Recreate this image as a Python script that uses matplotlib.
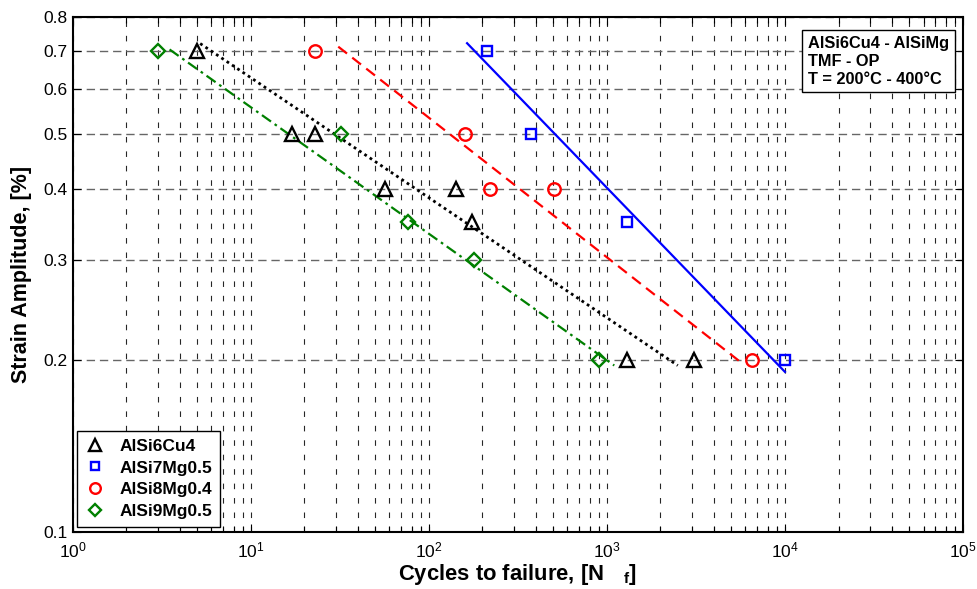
import numpy as np
import matplotlib
matplotlib.use('Agg')
import matplotlib.pyplot as plt
from matplotlib.ticker import LogLocator, NullLocator, FixedLocator, FixedFormatter

plt.rcParams['font.family'] = ['Liberation Sans', 'DejaVu Sans']
plt.rcParams['mathtext.fontset'] = 'custom'
plt.rcParams['mathtext.rm'] = 'Liberation Sans'
plt.rcParams['mathtext.bf'] = 'Liberation Sans:bold'
plt.rcParams['mathtext.it'] = 'Liberation Sans:bold'

# ---- data ----
cu4_n = [5, 17, 23, 57, 143, 175, 1300, 3100]
cu4_e = [0.7, 0.5, 0.5, 0.4, 0.4, 0.35, 0.2, 0.2]

mg7_n = [212, 373, 1300, 10000]
mg7_e = [0.7, 0.5, 0.35, 0.2]

mg8_n = [23, 159, 220, 507, 6500]
mg8_e = [0.7, 0.5, 0.4, 0.4, 0.2]

mg9_n = [3, 32, 76, 179, 900]
mg9_e = [0.7, 0.5, 0.35, 0.3, 0.2]

# fitted lines (end points)
cu4_fit_n = [5.2, 2500]
cu4_fit_e = [0.72, 0.196]
mg7_fit_n = [164, 10000]
mg7_fit_e = [0.721, 0.191]
mg8_fit_n = [31, 5600]
mg8_fit_e = [0.711, 0.199]
mg9_fit_n = [3.5, 1100]
mg9_fit_e = [0.703, 0.196]

y_ticks = [0.1, 0.2, 0.3, 0.4, 0.5, 0.6, 0.7, 0.8]
y_tick_labels = ['0.1', '0.2', '0.3', '0.4', '0.5', '0.6', '0.7', '0.8']

green = '#008000'

fig = plt.figure(figsize=(9.77, 5.89), dpi=100)
ax = fig.add_axes([0.0744, 0.0968, 0.9113, 0.8735])

# fit lines
ax.plot(cu4_fit_n, cu4_fit_e, color='k', ls=(0, (1, 1.3)), lw=2.0)
ax.plot(mg7_fit_n, mg7_fit_e, color='b', ls='-', lw=1.6)
ax.plot(mg8_fit_n, mg8_fit_e, color='r', ls=(0, (5, 3)), lw=1.6)
ax.plot(mg9_fit_n, mg9_fit_e, color=green, ls=(0, (5, 2, 1.2, 2)), lw=1.6)

# data points
ax.plot(cu4_n, cu4_e, '^', color='k', mfc='none', mew=1.7, ms=10, ls='none', label='AlSi6Cu4')
ax.plot(mg7_n, mg7_e, 's', color='b', mfc='none', mew=1.7, ms=7.5, ls='none', label='AlSi7Mg0.5')
ax.plot(mg8_n, mg8_e, 'o', color='r', mfc='none', mew=1.7, ms=9, ls='none', label='AlSi8Mg0.4')
ax.plot(mg9_n, mg9_e, 'D', color=green, mfc='none', mew=1.7, ms=7.5, ls='none', label='AlSi9Mg0.5')

ax.set_xscale('log')
ax.set_yscale('log')
ax.set_xlim(1, 1e5)
ax.set_ylim(0.1, 0.8)

ax.xaxis.set_major_locator(LogLocator(base=10, numticks=10))
ax.xaxis.set_minor_locator(LogLocator(base=10, subs=np.arange(2, 10), numticks=20))
ax.yaxis.set_major_locator(FixedLocator(y_ticks))
ax.yaxis.set_major_formatter(FixedFormatter(y_tick_labels))
ax.yaxis.set_minor_locator(NullLocator())

ax.tick_params(which='both', direction='in', top=True, right=True, labelsize=12.5)
ax.tick_params(which='major', length=6, width=0.8)
ax.tick_params(which='minor', length=4, width=0.8)
ax.tick_params(axis='x', pad=6)

# grid
ax.grid(axis='x', which='both', color='0.15', lw=0.8, ls=(0, (5, 8)))
ax.grid(axis='y', which='major', color='0.4', lw=1.0, ls=(0, (6, 3.5)))
ax.set_axisbelow(True)

for s in ax.spines.values():
    s.set_linewidth(1.5)

ax.set_xlabel('Cycles to failure, [N$\\quad{}_{\\mathbf{f}}$]', fontsize=15.8,
              fontweight='bold', labelpad=1)
ax.set_ylabel('Strain Amplitude, [%]', fontsize=15.5, fontweight='bold', labelpad=8)

leg = ax.legend(loc='lower left', bbox_to_anchor=(0.005, 0.01), borderaxespad=0,
                fancybox=False, framealpha=1, edgecolor='k', handlelength=1.2,
                handletextpad=0.8, borderpad=0.45, labelspacing=0.38, markerscale=0.85,
                prop={'weight': 'bold', 'size': 12.5})
leg.get_frame().set_linewidth(1.0)

ax.text(0.984, 0.965, 'AlSi6Cu4 - AlSiMg\nTMF - OP\nT = 200°C - 400°C',
        transform=ax.transAxes, ha='right', va='top', multialignment='left',
        fontsize=11.8, fontweight='bold', linespacing=1.25,
        bbox=dict(boxstyle='square,pad=0.35', fc='white', ec='k', lw=1.0))

fig.savefig('out.png', dpi=100)
